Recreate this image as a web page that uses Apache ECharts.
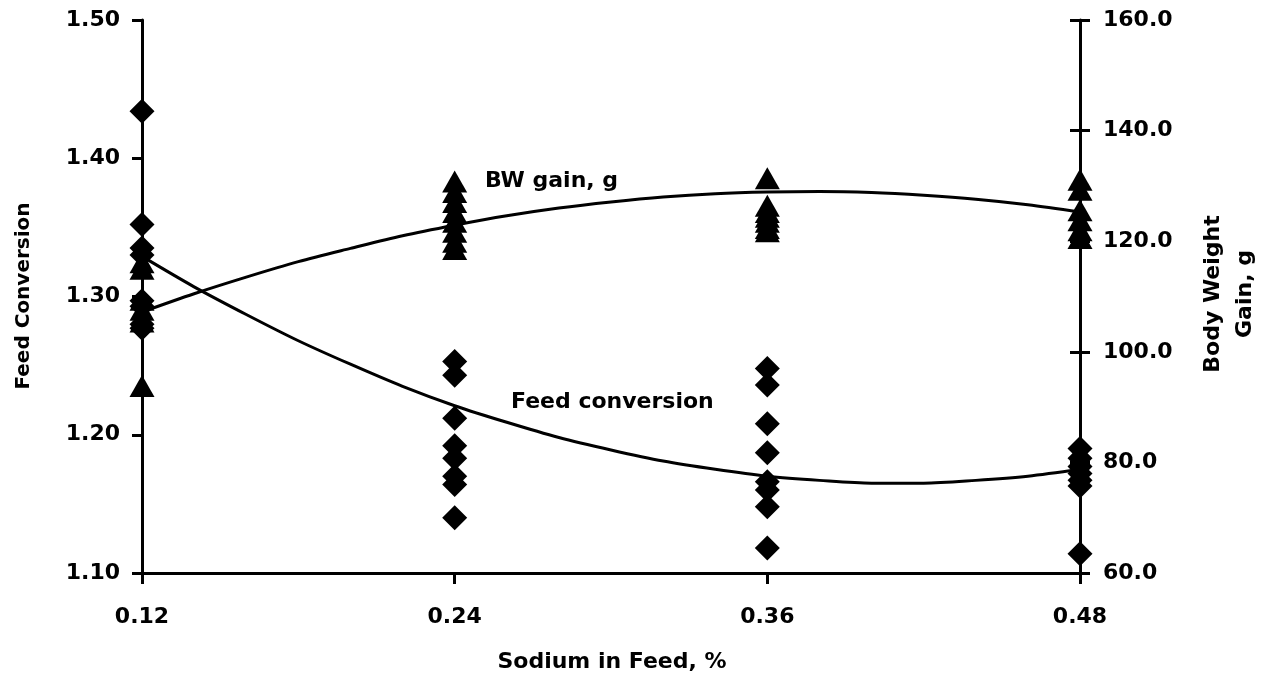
<!DOCTYPE html>
<html>
<head>
<meta charset="utf-8">
<script src="https://cdn.jsdelivr.net/npm/echarts@6/dist/echarts.min.js"></script>
<style>html,body{margin:0;padding:0;background:#fff}#c{width:1265px;height:674px}</style>
</head>
<body>
<div id="c"></div>
<script>
// Sodium levels (% of feed)
const sodium = [0.12, 0.24, 0.36, 0.48];
// Feed conversion observations per sodium level (diamonds, left axis)
const fc012 = [1.434, 1.352, 1.335, 1.330, 1.297, 1.293, 1.280, 1.277];
const fc024 = [1.253, 1.243, 1.212, 1.192, 1.183, 1.170, 1.164, 1.140];
const fc036 = [1.248, 1.236, 1.208, 1.187, 1.166, 1.160, 1.148, 1.118];
const fc048 = [1.190, 1.183, 1.177, 1.172, 1.167, 1.163, 1.114];
// Body weight gain observations per sodium level (triangles, right axis)
const bw012 = [116.2, 115.0, 109.4, 107.6, 105.5, 93.8];
const bw024 = [130.8, 128.9, 127.1, 125.3, 123.5, 121.7, 119.9, 118.6];
const bw036 = [131.4, 126.4, 125.3, 124.4, 123.5, 122.4, 121.8];
const bw048 = [131.1, 129.3, 125.6, 123.8, 122.0, 120.6];
// Fitted curves
const fitX  = [0.12, 0.14, 0.16, 0.18, 0.20, 0.22, 0.24, 0.26, 0.28, 0.30,
               0.32, 0.34, 0.36, 0.38, 0.40, 0.42, 0.44, 0.46, 0.48];
const fitFC = [1.329, 1.307, 1.287, 1.268, 1.251, 1.235, 1.221, 1.209, 1.198, 1.189,
               1.181, 1.175, 1.170, 1.167, 1.165, 1.165, 1.167, 1.170, 1.175];
const fitBW = [107.2, 110.5, 113.5, 116.3, 118.7, 121.0, 122.9, 124.6, 126.0, 127.1,
               128.0, 128.6, 128.9, 129.0, 128.8, 128.3, 127.6, 126.6, 125.3];
// Tick settings
const xTicks = {min: 0.12, max: 0.48, interval: 0.12};
const fcTicks = {min: 1.1, max: 1.5, interval: 0.1};
const bwTicks = {min: 60, max: 160, interval: 20};

const fcGroups = [fc012, fc024, fc036, fc048];
const bwGroups = [bw012, bw024, bw036, bw048];
const fcPts = [], bwPts = [];
sodium.forEach((s, i) => {
  fcGroups[i].forEach(v => fcPts.push([s, v]));
  bwGroups[i].forEach(v => bwPts.push([s, v]));
});
const fcLine = fitX.map((x, i) => [x, fitFC[i]]);
const bwLine = fitX.map((x, i) => [x, fitBW[i]]);

const FONT = 'DejaVu Sans';
const lab = {color: '#000', fontFamily: FONT, fontWeight: 'bold', fontSize: 22};
const axLine = {show: true, onZero: false, lineStyle: {color: '#000', width: 3}};

const chart = echarts.init(document.getElementById('c'), null, {renderer: 'canvas'});
chart.setOption({
  backgroundColor: '#fff',
  animation: false,
  grid: {left: 142, right: 185, top: 20, bottom: 101, containLabel: false},
  xAxis: {
    type: 'value', min: xTicks.min, max: xTicks.max, interval: xTicks.interval,
    axisLine: axLine,
    axisTick: {show: true, inside: false, length: 11, lineStyle: {color: '#000', width: 3}},
    axisLabel: Object.assign({margin: 33, formatter: v => v.toFixed(2)}, lab),
    splitLine: {show: false}
  },
  yAxis: [
    {
      type: 'value', position: 'left', min: fcTicks.min, max: fcTicks.max, interval: fcTicks.interval,
      axisLine: axLine,
      axisTick: {show: true, inside: false, length: 10, lineStyle: {color: '#000', width: 3}},
      axisLabel: Object.assign({margin: 22, formatter: v => v.toFixed(2)}, lab),
      splitLine: {show: false}
    },
    {
      type: 'value', position: 'right', min: bwTicks.min, max: bwTicks.max, interval: bwTicks.interval,
      axisLine: axLine,
      axisTick: {show: true, inside: false, length: 10, lineStyle: {color: '#000', width: 3}},
      axisLabel: Object.assign({margin: 23, formatter: v => v.toFixed(1)}, lab),
      splitLine: {show: false}
    },
    {
      type: 'value', position: 'right', min: bwTicks.min, max: bwTicks.max, interval: bwTicks.interval,
      axisLine: {show: false},
      axisTick: {show: true, inside: true, length: 10, lineStyle: {color: '#000', width: 3}},
      axisLabel: {show: false},
      splitLine: {show: false}
    }
  ],
  series: [
    {
      type: 'scatter', yAxisIndex: 1, data: bwPts, symbol: 'triangle', symbolSize: [25, 22],
      itemStyle: {color: '#000', opacity: 1}, z: 3
    },
    {
      type: 'scatter', yAxisIndex: 0, data: fcPts, symbol: 'diamond', symbolSize: [25, 25],
      itemStyle: {color: '#000', opacity: 1}, z: 3
    },
    {
      type: 'line', yAxisIndex: 0, data: fcLine, smooth: 0.3, showSymbol: false, symbol: 'none',
      lineStyle: {color: '#000', width: 3}, z: 4
    },
    {
      type: 'line', yAxisIndex: 1, data: bwLine, smooth: 0.3, showSymbol: false, symbol: 'none',
      lineStyle: {color: '#000', width: 3}, z: 4
    }
  ],
  graphic: [
    {type: 'text', left: 485, top: 170, style: {text: 'BW gain, g', fill: '#000', font: 'bold 22px "DejaVu Sans"'}},
    {type: 'text', left: 511, top: 391, style: {text: 'Feed conversion', fill: '#000', font: 'bold 22px "DejaVu Sans"'}},
    {type: 'text', x: 612, y: 662, style: {text: 'Sodium in Feed, %', fill: '#000', font: 'bold 22px "DejaVu Sans"', align: 'center', verticalAlign: 'middle'}},
    {type: 'text', x: 24, y: 296, rotation: Math.PI / 2, style: {text: 'Feed Conversion', fill: '#000', font: 'bold 20px "DejaVu Sans"', align: 'center', verticalAlign: 'middle'}},
    {type: 'text', x: 1229, y: 294, rotation: Math.PI / 2, style: {text: 'Body Weight\nGain, g', fill: '#000', font: 'bold 22px "DejaVu Sans"', align: 'center', verticalAlign: 'middle', lineHeight: 32}}
  ]
});
</script>
</body>
</html>
